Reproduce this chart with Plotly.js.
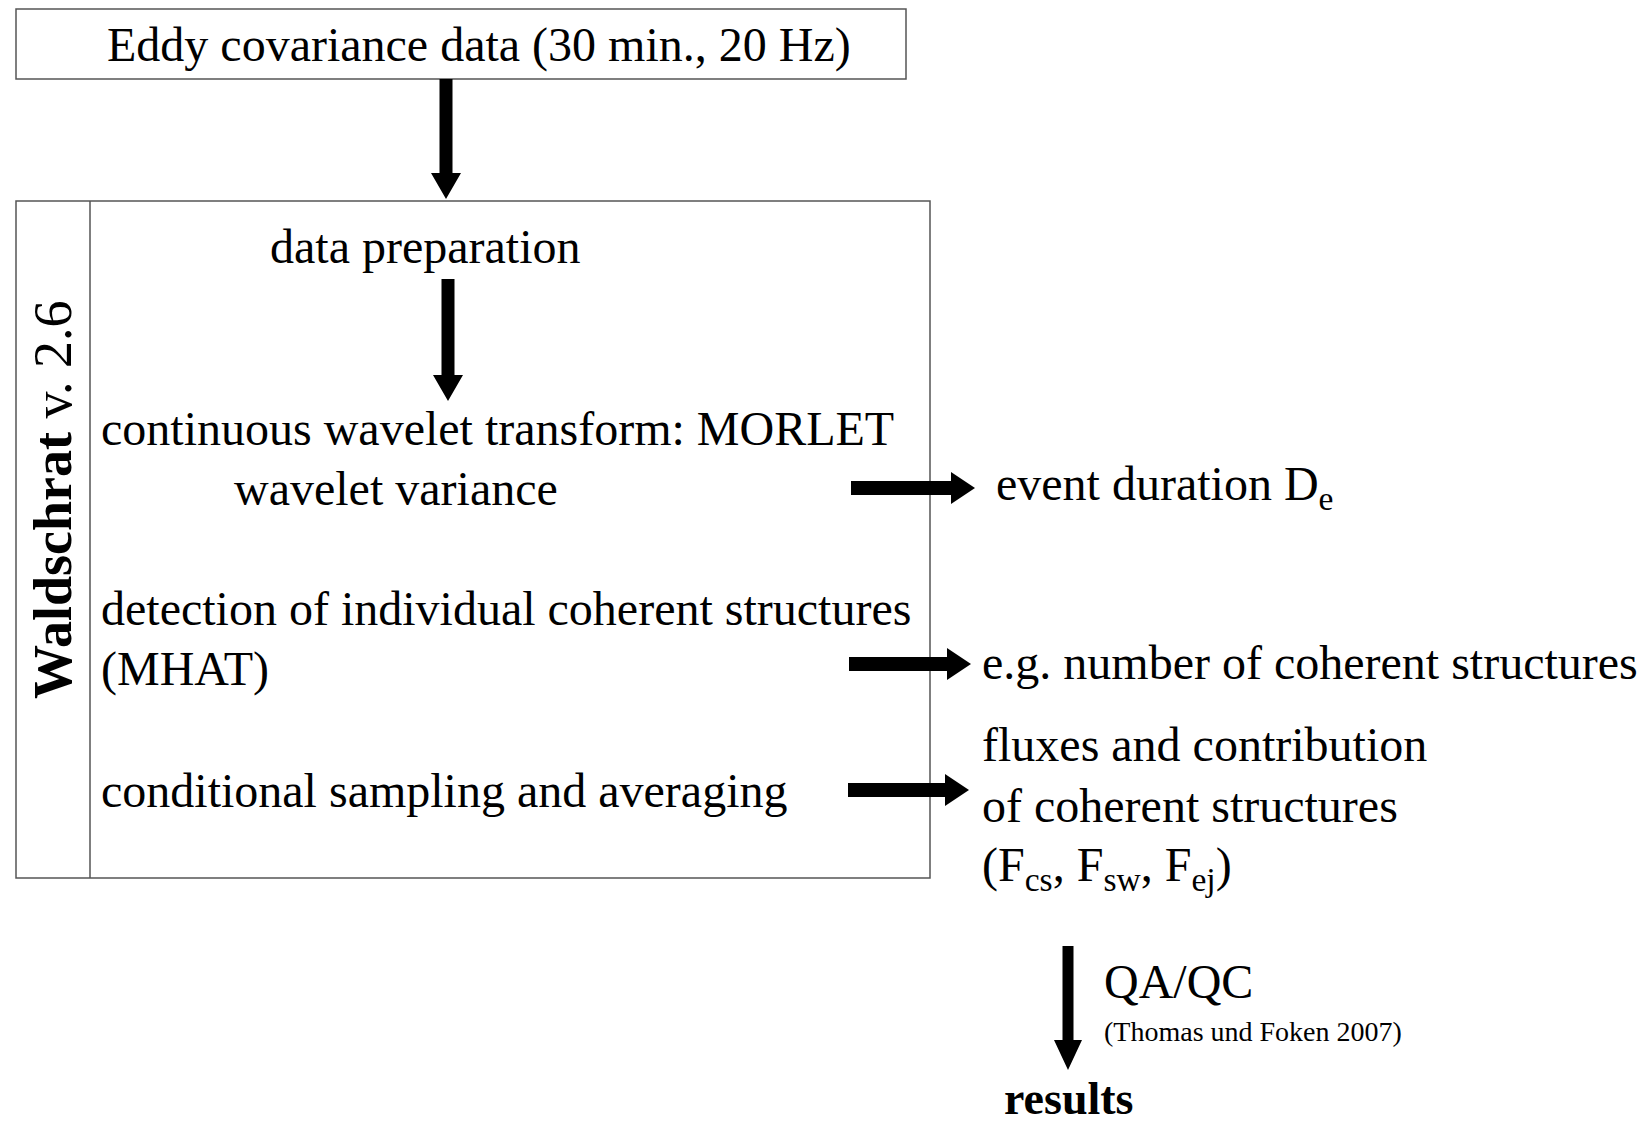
<!DOCTYPE html>
<html>
<head>
<meta charset="utf-8">
<script src="https://cdn.plot.ly/plotly-3.0.1.min.js"></script>
<style>html,body{margin:0;padding:0;background:#fff;}#chart{width:1652px;height:1127px;}</style>
</head>
<body>
<div id="chart"></div>
<script>
// ---- content (texts of the flow chart) ----
const inputLabel = "Eddy covariance data (30 min., 20 Hz)";
const programLabel = "<b>Waldschrat</b> v. 2.6";
const stepLabels = [
  "data preparation",
  "continuous wavelet transform: MORLET",
  "wavelet variance",
  "detection of individual coherent structures",
  "(MHAT)",
  "conditional sampling and averaging"
];
const outputLabels = [
  "event duration D<sub>e</sub>",
  "e.g. number of coherent structures",
  "fluxes and contribution",
  "of coherent structures",
  "(F<sub>cs</sub>, F<sub>sw</sub>, F<sub>ej</sub>)"
];
const qaLabel = "QA/QC";
const qaRef = "(Thomas und Foken 2007)";
const resultLabel = "<b>results</b>";

// ---- drawing ----
const W = 1652, H = 1127;
const FONT = "Liberation Serif, Times New Roman, serif";
const lineCol = "#555";
const FS = 48;

function txt(text, x, y, size, anchor, extra) {
  return Object.assign({
    text: text, x: x, y: y, xref: "x", yref: "y",
    xanchor: anchor || "left", yanchor: "middle",
    showarrow: false, font: {family: FONT, size: size, color: "#000"}
  }, extra || {});
}

function downArrow(x, y0, y1, shaft, headW, headL) {
  const s = shaft / 2, h = headW / 2, yb = y1 - headL;
  return {type: "path", xref: "x", yref: "y",
    path: `M${x - s},${y0} L${x + s},${y0} L${x + s},${yb} L${x + h},${yb} L${x},${y1} L${x - h},${yb} L${x - s},${yb} Z`,
    fillcolor: "#000", line: {width: 0}};
}
function rightArrow(x0, x1, y, shaft, headW, headL) {
  const s = shaft / 2, h = headW / 2, xb = x1 - headL;
  return {type: "path", xref: "x", yref: "y",
    path: `M${x0},${y - s} L${xb},${y - s} L${xb},${y - h} L${x1},${y} L${xb},${y + h} L${xb},${y + s} L${x0},${y + s} Z`,
    fillcolor: "#000", line: {width: 0}};
}

const shapes = [
  {type: "rect", xref: "x", yref: "y", x0: 16, x1: 906, y0: 9, y1: 79, line: {color: lineCol, width: 1.5}},
  {type: "rect", xref: "x", yref: "y", x0: 16, x1: 930, y0: 201, y1: 878, line: {color: lineCol, width: 1.5}},
  {type: "line", xref: "x", yref: "y", x0: 90, x1: 90, y0: 201, y1: 878, line: {color: lineCol, width: 1.5}},
  downArrow(446, 79, 199, 13, 30, 26),
  downArrow(448, 279, 401, 13, 30, 26),
  rightArrow(851, 975, 488, 14, 32, 24),
  rightArrow(849, 971, 664, 14, 32, 24),
  rightArrow(848, 969, 790, 14, 32, 24),
  downArrow(1068, 946, 1070, 11, 28, 30)
];

const annotations = [
  txt(inputLabel, 479, 45, FS, "center"),
  txt(programLabel, 53, 500, 54, "center", {textangle: -90}),
  txt(stepLabels[0], 425, 246, FS, "center"),
  txt(stepLabels[1], 99, 428, FS),
  txt(stepLabels[2], 232, 488, FS),
  txt(stepLabels[3], 99, 608, FS),
  txt(stepLabels[4], 99, 669, FS),
  txt(stepLabels[5], 99, 790, FS),
  txt(outputLabels[0], 994, 487, FS),
  txt(outputLabels[1], 980, 662, FS),
  txt(outputLabels[2], 980, 744, FS),
  txt(outputLabels[3], 980, 805, FS),
  txt(outputLabels[4], 980, 868, FS),
  txt(qaLabel, 1102, 981, FS),
  txt(qaRef, 1102, 1031, 28),
  txt(resultLabel, 1069, 1098, 46, "center")
];

const layout = {
  width: W, height: H,
  margin: {l: 0, r: 0, t: 0, b: 0},
  paper_bgcolor: "#fff", plot_bgcolor: "#fff",
  xaxis: {range: [0, W], visible: false, fixedrange: true},
  yaxis: {range: [H, 0], visible: false, fixedrange: true},
  showlegend: false,
  shapes: shapes,
  annotations: annotations
};

Plotly.newPlot("chart", [], layout, {displayModeBar: false, staticPlot: true});
</script>
</body>
</html>
